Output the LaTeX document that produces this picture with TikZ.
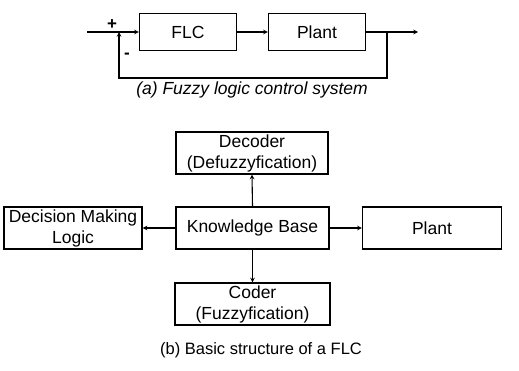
\documentclass[tikz,border=0pt]{standalone}
\usepackage{fontspec}
\setmainfont{Liberation Sans}
\usepackage{tikz}
\usetikzlibrary{calc}
\tikzset{>=stealth}
\tikzset{
    blk/.style={draw,line width=1.2pt,inner sep=0pt,align=center,
        font=\fontsize{17.5}{21}\selectfont},
    sig/.style={->,line width=1.1pt}
}

\begin{document}
\begin{tikzpicture}[x=1pt,y=-1pt]
    \useasboundingbox (0,0) rectangle (519,370);

    % Draw the closed loop
    \node[blk,minimum width=97pt,minimum height=37pt] (flc) at (188,32) {FLC};
    \node[blk,minimum width=97pt,minimum height=37pt] (plant) at (317,32) {Plant};
    \coordinate (in) at (87,32);
    \coordinate (sum) at (119,32);
    \coordinate (tap) at (387,32);
    \coordinate (out) at (418,32);
    \coordinate (fbr) at (387,78);
    \coordinate (fbl) at (119,78);

    \draw[sig] (in) -- (flc.west);
    \draw[sig] (flc.east) -- (plant.west);
    \draw[sig] (plant.east) -- (out);
    \draw[sig] (tap) -- (fbr) -- (fbl) -- (sum);

    \node[font=\fontsize{17}{17}\selectfont\bfseries] (plus) at (112,25) {+};
    \node[font=\fontsize{17}{17}\selectfont\bfseries] (minus) at (127,56) {-};
    \node[font=\fontsize{17.5}{21}\selectfont\itshape] (capa) at (252,90)
        {(a) Fuzzy logic control system};

    % Draw the basic structure
    \node[blk,minimum width=153pt,minimum height=42pt] (kb) at (252.5,228) {Knowledge Base};
    \node[blk,minimum width=152pt,minimum height=42pt] (dec) at (252,153) {Decoder\\(Defuzzyfication)};
    \node[blk,minimum width=138pt,minimum height=42pt] (dml) at (73,228) {Decision Making\\Logic};
    \node[blk,minimum width=139pt,minimum height=42pt] (plantb) at (432,228) {Plant};
    \node[blk,minimum width=155pt,minimum height=42pt] (coder) at (252.5,304) {Coder\\(Fuzzyfication)};

    \draw[sig] (kb.north) -- (dec.south);
    \draw[sig] (kb.west) -- (dml.east);
    \draw[sig] (kb.east) -- (plantb.west);
    \draw[sig] (kb.south) -- (coder.north);

    \node[font=\fontsize{16.5}{20}\selectfont] (capb) at (261,350)
        {(b) Basic structure of a FLC};
\end{tikzpicture}
\end{document}
